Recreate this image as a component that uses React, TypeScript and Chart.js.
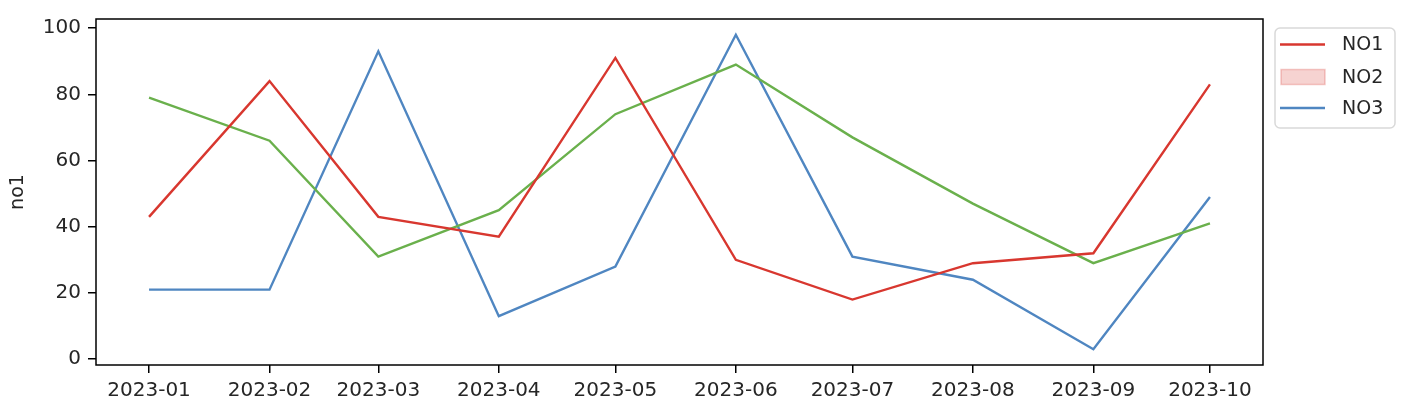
import React, { useEffect, useRef } from "react";
import { Chart, registerables } from "chart.js";

Chart.register(...registerables);

const months = ["2023-01", "2023-02", "2023-03", "2023-04", "2023-05", "2023-06", "2023-07", "2023-08", "2023-09", "2023-10"];
const no1 = [43, 84, 43, 37, 91, 30, 18, 29, 32, 83];
const no2 = [79, 66, 31, 45, 74, 89, 67, 47, 29, 41];
const no3 = [21, 21, 93, 13, 28, 98, 31, 24, 3, 49];
const yTicks = [0, 20, 40, 60, 80, 100];
const legendLabels = ["NO1", "NO2", "NO3"];

const FONT = "'DejaVu Sans', sans-serif";

const dayOffset = (m: string) => {
  const [y, mo] = m.split("-").map(Number);
  return (Date.UTC(y, mo - 1, 1) - Date.UTC(2023, 0, 1)) / 86400000;
};
const xs = months.map(dayOffset);
const xMinData = Math.min(...xs);
const xMaxData = Math.max(...xs);
const allY = [...no1, ...no2, ...no3];
const yMinData = Math.min(...allY);
const yMaxData = Math.max(...allY);
const xm = (xMaxData - xMinData) * 0.05;
const ym = (yMaxData - yMinData) * 0.05;

const RED = "#d8372f";
const GREEN = "#6ab04c";
const BLUE = "#4f86c1";
const TEXT = "#262626";

const framePlugin = {
  id: "frame",
  afterDatasetsDraw(chart: any) {
    const { ctx, chartArea: a } = chart;
    ctx.save();
    ctx.strokeStyle = "#000";
    ctx.lineWidth = 1.5;
    ctx.strokeRect(a.left, a.top, a.right - a.left, a.bottom - a.top);
    ctx.restore();
  },
};

const legendPlugin = {
  id: "customLegend",
  afterDraw(chart: any) {
    const { ctx } = chart;
    const x0 = 1275, y0 = 28, w = 120, h = 100;
    ctx.save();
    ctx.fillStyle = "rgba(255,255,255,0.8)";
    ctx.strokeStyle = "#d9d9d9";
    ctx.lineWidth = 1.5;
    ctx.beginPath();
    (ctx as any).roundRect(x0, y0, w, h, 5);
    ctx.fill();
    ctx.stroke();
    const rows = [44.5, 77, 108];
    ctx.font = `19px ${FONT}`;
    ctx.textBaseline = "middle";
    ctx.textAlign = "left";
    rows.forEach((ry, i) => {
      if (i === 1) {
        ctx.fillStyle = "rgba(216,55,47,0.22)";
        ctx.strokeStyle = "rgba(216,55,47,0.25)";
        ctx.lineWidth = 1.5;
        ctx.fillRect(1281, ry - 7.5, 44, 15);
        ctx.strokeRect(1281, ry - 7.5, 44, 15);
      } else {
        ctx.strokeStyle = i === 0 ? RED : BLUE;
        ctx.lineWidth = 2.4;
        ctx.beginPath();
        ctx.moveTo(1280, ry);
        ctx.lineTo(1325, ry);
        ctx.stroke();
      }
      ctx.fillStyle = TEXT;
      ctx.fillText(legendLabels[i], 1342, ry + 1);
    });
    ctx.restore();
  },
};

export default function App() {
  const ref = useRef<HTMLCanvasElement>(null);
  useEffect(() => {
    if (!ref.current) return;
    const mk = (vals: number[]) => vals.map((v, i) => ({ x: xs[i], y: v }));
    const chart = new Chart(ref.current, {
      type: "line",
      data: {
        datasets: [
          { label: "NO1", data: mk(no1), borderColor: RED, borderWidth: 2.4, pointRadius: 0, tension: 0 },
          { label: "NO2", data: mk(no2), borderColor: GREEN, borderWidth: 2.4, pointRadius: 0, tension: 0 },
          { label: "NO3", data: mk(no3), borderColor: BLUE, borderWidth: 2.4, pointRadius: 0, tension: 0 },
        ],
      },
      options: {
        animation: false,
        responsive: false,
        devicePixelRatio: 1,
        layout: { padding: { left: 0, right: 143, top: 17, bottom: 0 } },
        plugins: { legend: { display: false }, tooltip: { enabled: false } },
        scales: {
          x: {
            type: "linear",
            min: xMinData - xm,
            max: xMaxData + xm,
            afterBuildTicks: (s: any) => {
              s.ticks = xs.map((v) => ({ value: v }));
            },
            afterFit: (s: any) => {
              s.height = 55;
            },
            ticks: {
              autoSkip: false,
              maxRotation: 0,
              color: TEXT,
              font: { family: FONT, size: 20 },
              padding: 6,
              callback: (v: any) => {
                const i = xs.indexOf(Number(v));
                return i >= 0 ? months[i] : "";
              },
            },
            grid: { drawOnChartArea: false, tickLength: 8, tickColor: "#000", lineWidth: 1.5 },
            border: { display: false },
          },
          y: {
            type: "linear",
            min: yMinData - ym,
            max: yMaxData + ym,
            afterBuildTicks: (s: any) => {
              s.ticks = yTicks.map((v) => ({ value: v }));
            },
            afterFit: (s: any) => {
              s.width = 96;
            },
            ticks: { color: TEXT, font: { family: FONT, size: 20 }, padding: 7 },
            grid: { drawOnChartArea: false, tickLength: 8, tickColor: "#000", lineWidth: 1.5 },
            border: { display: false },
            title: { display: true, text: "no1", color: TEXT, font: { family: FONT, size: 19 }, padding: { top: 7, bottom: 0 } },
          },
        },
      },
      plugins: [framePlugin, legendPlugin],
    } as any);
    return () => chart.destroy();
  }, []);
  return (
    <div style={{ position: "fixed", left: 0, top: 0, width: 1406, height: 420, background: "#fff" }}>
      <canvas ref={ref} width={1406} height={420} style={{ width: 1406, height: 420, display: "block" }} />
    </div>
  );
}
